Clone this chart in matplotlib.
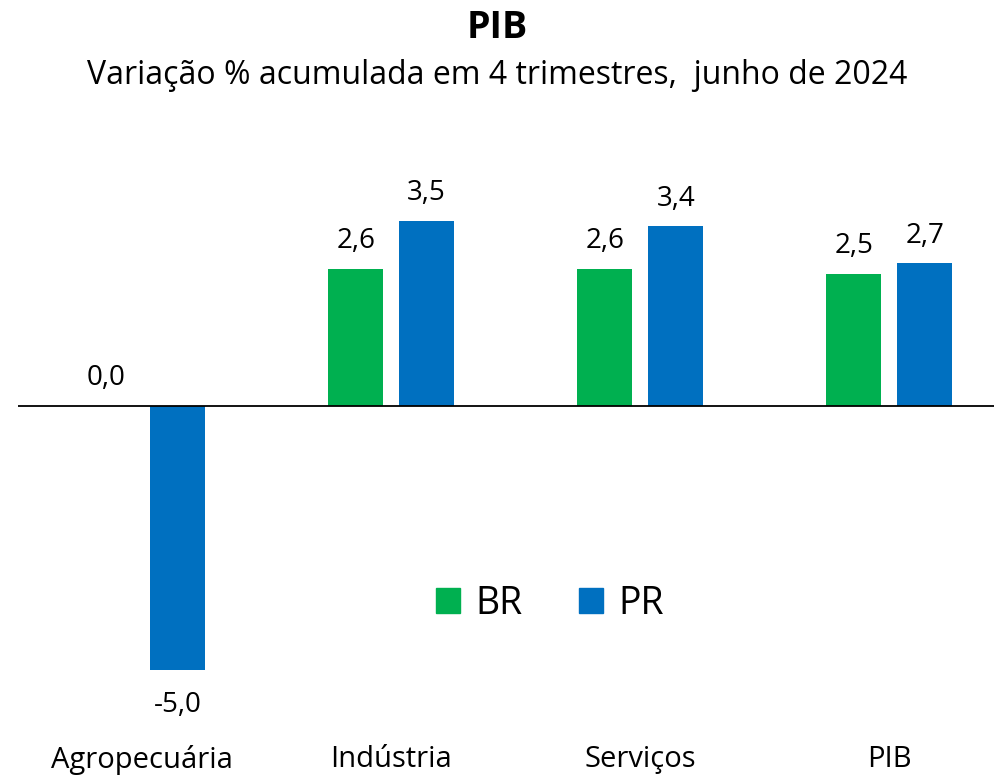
import numpy as np
import matplotlib.pyplot as plt
from matplotlib.patches import Patch

plt.rcParams['font.family'] = ['Open Sans', 'DejaVu Sans']

# dados
categorias = ["Agropecuária", "Indústria", "Serviços", "PIB"]
br = [0.0, 2.6, 2.6, 2.5]
pr = [-5.0, 3.5, 3.4, 2.7]
cor_br = "#00B050"
cor_pr = "#0070C0"

W, H = 994, 776
fig = plt.figure(figsize=(W / 100, H / 100), dpi=100)
# eixo em pixels: esquerda 18, direita 994, topo 150, base 720
ax = fig.add_axes([18 / W, (H - 720) / H, 976 / W, 570 / H])

x = np.arange(len(categorias))
larg = 0.221
desl = 0.1426
b1 = ax.bar(x - desl, br, larg, color=cor_br)
b2 = ax.bar(x + desl, pr, larg, color=cor_pr)

ax.set_xlim(-0.498, 3.42)
ax.set_ylim(-(720 - 406) / 52.8, (406 - 150) / 52.8)
ax.axhline(0, color="black", lw=1.3)

for barras in (b1, b2):
    for b in barras:
        v = b.get_height()
        txt = f"{v:.1f}".replace(".", ",")
        xc = b.get_x() + b.get_width() / 2
        dy = -25 if v < 0 else 20
        ax.annotate(txt, (xc, v), xytext=(0, dy), textcoords="offset points",
                    ha="center", va="center", fontsize=20)

ax.set_yticks([])
ax.set_xticks(x)
ax.set_xticklabels(categorias, fontsize=21)
ax.tick_params(axis="x", length=0, pad=18)
for s in ax.spines.values():
    s.set_visible(False)

handles = [Patch(color=cor_br, label="BR"), Patch(color=cor_pr, label="PR")]
ax.legend(handles=handles, ncol=2, loc="center", bbox_to_anchor=(0.545, 0.2035),
          frameon=False, fontsize=27, handlelength=0.65, handleheight=0.65,
          columnspacing=1.5, handletextpad=0.4)

fig.text(0.5, 1 - 28 / H, "PIB", ha="center", va="center", fontsize=27, fontweight="bold")
fig.text(0.5, 1 - 76 / H, "Variação % acumulada em 4 trimestres,  junho de 2024",
         ha="center", va="center", fontsize=23)

fig.savefig("out.png", dpi=100)
